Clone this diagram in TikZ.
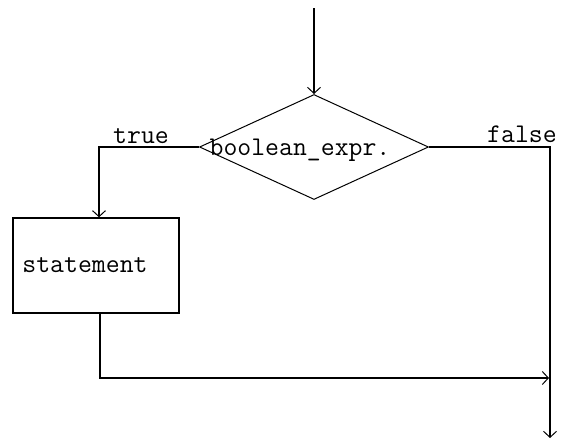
\documentclass[tikz,border=0pt]{standalone}
\usetikzlibrary{shapes.geometric,arrows.meta}
\tikzset{
  flow/.style={line width=1.4pt, -{Straight Barb[length=6pt,width=13pt,line width=1pt]}},
  plain/.style={line width=1.4pt},
  lbl/.style={font=\ttfamily\fontsize{27}{27}\selectfont, inner sep=0pt, anchor=base},
  decision/.style={diamond, draw, line width=1pt, minimum width=229pt, minimum height=105pt, inner sep=0pt},
  proc/.style={rectangle, draw, line width=1.4pt, minimum width=166pt, minimum height=95pt, inner sep=0pt}
}
\begin{document}
\begin{tikzpicture}[x=1pt,y=-1pt]
\useasboundingbox (0,0) rectangle (561,439);
\node[decision] (dec) at (314,147) {};
\coordinate (start) at (314,8);
\node[lbl] (cond) at (300,155) {boolean\_expr.};
\node[proc] (stmt) at (96,265.5) {};
\node[lbl] (stext) at (85,272) {statement};
\node[lbl] (ttrue) at (141,143) {true};
\node[lbl] (tfalse) at (522,142) {false};
\coordinate (tcorner) at (99,147);
\coordinate (fcorner) at (550,147);
\coordinate (bcorner) at (100,378);
\coordinate (join) at (550,378);
\coordinate (exit) at (550,438);

\draw[flow] (start) -- (dec.north);
\draw[flow] (dec.west) -- (tcorner) -- (stmt.north -| tcorner);
\draw[plain] (dec.east) -- (fcorner) -- (join);
\draw[flow] (join) -- (exit);
\draw[flow] (stmt.south -| bcorner) -- (bcorner) -- ([xshift=-1pt]join);
\end{tikzpicture}
\end{document}
